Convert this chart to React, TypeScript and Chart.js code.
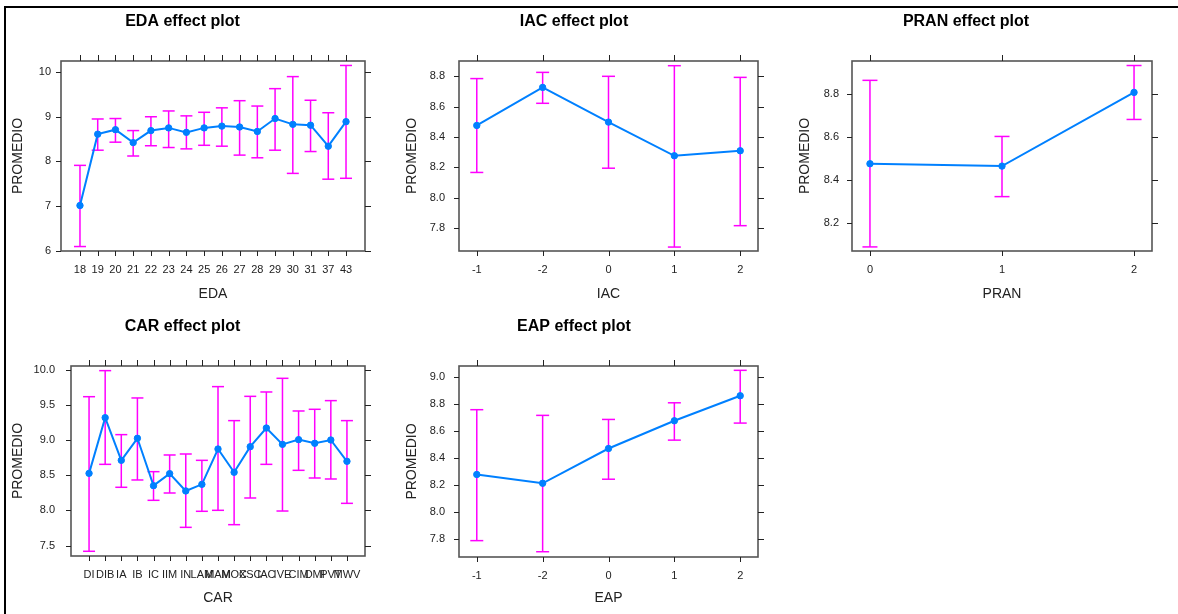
import React, { useEffect, useRef } from 'react';
import { Chart, registerables } from 'chart.js';

Chart.register(...registerables);

// ---------- data ----------
const edaLabels = ['18', '19', '20', '21', '22', '23', '24', '25', '26', '27', '28', '29', '30', '31', '37', '43'];
const edaMean = [7.01, 8.61, 8.71, 8.42, 8.69, 8.75, 8.65, 8.75, 8.79, 8.77, 8.67, 8.96, 8.83, 8.81, 8.34, 8.89];
const edaUpper = [7.91, 8.95, 8.96, 8.69, 9.0, 9.13, 9.02, 9.1, 9.2, 9.36, 9.24, 9.63, 9.9, 9.37, 9.09, 10.15];
const edaLower = [6.09, 8.25, 8.43, 8.12, 8.35, 8.31, 8.28, 8.36, 8.34, 8.14, 8.08, 8.25, 7.73, 8.22, 7.6, 7.62];
const edaYTicks = [6, 7, 8, 9, 10];

const iacLabels = ['-1', '-2', '0', '1', '2'];
const iacMean = [8.476, 8.727, 8.498, 8.276, 8.309];
const iacUpper = [8.785, 8.826, 8.8, 8.87, 8.793];
const iacLower = [8.166, 8.622, 8.194, 7.674, 7.815];
const iacYTicks = [7.8, 8.0, 8.2, 8.4, 8.6, 8.8];

const pranLabels = ['0', '1', '2'];
const pranMean = [8.474, 8.463, 8.806];
const pranUpper = [8.862, 8.601, 8.931];
const pranLower = [8.087, 8.321, 8.68];
const pranYTicks = [8.2, 8.4, 8.6, 8.8];

const carLabels = ['DI', 'DIB', 'IA', 'IB', 'IC', 'IIM', 'IN', 'LAM', 'MAM', 'MOC', 'XSC', 'IAC', 'IVE', 'CIM', 'DMI', 'PVT', 'MWV'];
const carMean = [8.527, 9.318, 8.712, 9.025, 8.352, 8.523, 8.277, 8.371, 8.873, 8.542, 8.906, 9.171, 8.939, 9.006, 8.954, 9.001, 8.698];
const carUpper = [9.616, 9.986, 9.077, 9.598, 8.551, 8.788, 8.802, 8.712, 9.759, 9.276, 9.621, 9.683, 9.877, 9.413, 9.437, 9.56, 9.276];
const carLower = [7.42, 8.655, 8.329, 8.433, 8.144, 8.248, 7.76, 7.988, 8.002, 7.798, 8.177, 8.655, 7.992, 8.57, 8.461, 8.447, 8.101];
const carYTicks = [7.5, 8.0, 8.5, 9.0, 9.5, 10.0];

const eapLabels = ['-1', '-2', '0', '1', '2'];
const eapMean = [8.277, 8.212, 8.469, 8.674, 8.859];
const eapUpper = [8.756, 8.714, 8.684, 8.807, 9.047];
const eapLower = [7.788, 7.706, 8.242, 8.531, 8.657];
const eapYTicks = [7.8, 8.0, 8.2, 8.4, 8.6, 8.8, 9.0];

// ---------- layout / style ----------
const FONT = "'Liberation Sans', Arial, Helvetica, sans-serif";
const LINE_COLOR = '#0080ff';
const BAR_COLOR = '#ff00ff';
const TEXT_COLOR = '#222';
const TICK_LEN = 5;

type PanelCfg = {
  name: string;
  labels: string[];
  mean: number[];
  upper: number[];
  lower: number[];
  yTicks: number[];
  dec: number;
  yMin: number;
  yMax: number;
  xPad: number;
  left: number;
  top: number;
  w: number;
  h: number;
  yW: number;
  rightPad: number;
  xH: number;
  yTitlePad: number;
  xTitlePad: number;
  yTickPad: number;
  capR: number;
};

const panels: PanelCfg[] = [
  { name: 'EDA', labels: edaLabels, mean: edaMean, upper: edaUpper, lower: edaLower, yTicks: edaYTicks, dec: 0,
    yMin: 5.99, yMax: 10.25, xPad: 1.07, left: 0, top: 0, w: 404, h: 305, yW: 61, rightPad: 39, xH: 54,
    yTitlePad: 9.6, xTitlePad: 2.6, yTickPad: 5, capR: 6 },
  { name: 'IAC', labels: iacLabels, mean: iacMean, upper: iacUpper, lower: iacLower, yTicks: iacYTicks, dec: 1,
    yMin: 7.648, yMax: 8.901, xPad: 0.27, left: 390, top: 0, w: 410, h: 305, yW: 69, rightPad: 42, xH: 54,
    yTitlePad: 13.6, xTitlePad: 2.6, yTickPad: 9, capR: 6.5 },
  { name: 'PRAN', labels: pranLabels, mean: pranMean, upper: pranUpper, lower: pranLower, yTicks: pranYTicks, dec: 1,
    yMin: 8.068, yMax: 8.952, xPad: 0.136, left: 780, top: 0, w: 416, h: 305, yW: 72, rightPad: 44, xH: 54,
    yTitlePad: 16.6, xTitlePad: 2.6, yTickPad: 8, capR: 7.5 },
  { name: 'CAR', labels: carLabels, mean: carMean, upper: carUpper, lower: carLower, yTicks: carYTicks, dec: 1,
    yMin: 7.353, yMax: 10.052, xPad: 1.12, left: 0, top: 305, w: 404, h: 309, yW: 71, rightPad: 39, xH: 58,
    yTitlePad: 9.6, xTitlePad: 7.9, yTickPad: 11, capR: 6 },
  { name: 'EAP', labels: eapLabels, mean: eapMean, upper: eapUpper, lower: eapLower, yTicks: eapYTicks, dec: 1,
    yMin: 7.667, yMax: 9.079, xPad: 0.27, left: 390, top: 305, w: 410, h: 309, yW: 69, rightPad: 42, xH: 57,
    yTitlePad: 13.6, xTitlePad: 7.6, yTickPad: 9, capR: 6.5 },
];

// draws the lattice-style box and tick marks on all four sides, using the chart's own scales
const framePlugin = {
  id: 'latticeFrame',
  afterDraw(chart: any) {
    const { ctx, chartArea: a, scales } = chart;
    ctx.save();
    ctx.strokeStyle = '#555';
    ctx.lineWidth = 1.6;
    ctx.strokeRect(a.left, a.top, a.right - a.left, a.bottom - a.top);
    ctx.strokeStyle = '#222';
    ctx.lineWidth = 1;
    ctx.beginPath();
    scales.x.ticks.forEach((t: any) => {
      const px = Math.round(scales.x.getPixelForValue(t.value)) + 0.5;
      ctx.moveTo(px, a.top);
      ctx.lineTo(px, a.top - TICK_LEN - 1);
      ctx.moveTo(px, a.bottom);
      ctx.lineTo(px, a.bottom + TICK_LEN);
    });
    scales.y.ticks.forEach((t: any) => {
      const py = Math.round(scales.y.getPixelForValue(t.value)) + 0.5;
      ctx.moveTo(a.right, py);
      ctx.lineTo(a.right + TICK_LEN + 1, py);
      ctx.moveTo(a.left, py);
      ctx.lineTo(a.left - TICK_LEN, py);
    });
    ctx.stroke();
    ctx.restore();
  },
};

function Panel({ cfg }: { cfg: PanelCfg }) {
  const ref = useRef<HTMLCanvasElement>(null);
  useEffect(() => {
    if (!ref.current) return;
    const n = cfg.labels.length;
    const lineData = cfg.mean.map((v, i) => ({ x: i, y: v }));
    const barData: any[] = [];
    cfg.labels.forEach((_, i) => {
      barData.push({ x: i, y: cfg.lower[i] });
      barData.push({ x: i, y: cfg.upper[i] });
      barData.push({ x: i, y: null });
    });
    const chart = new Chart(ref.current, {
      type: 'line',
      data: {
        datasets: [
          {
            data: lineData,
            borderColor: LINE_COLOR,
            backgroundColor: LINE_COLOR,
            borderWidth: 2,
            pointRadius: 3.2,
            pointBackgroundColor: LINE_COLOR,
            pointBorderColor: LINE_COLOR,
            pointBorderWidth: 1,
            tension: 0,
          },
          {
            data: barData,
            borderColor: BAR_COLOR,
            backgroundColor: BAR_COLOR,
            borderWidth: 1.5,
            pointStyle: 'line',
            pointRadius: cfg.capR,
            pointBorderColor: BAR_COLOR,
            pointBorderWidth: 1.5,
            spanGaps: false,
            tension: 0,
          },
        ],
      } as any,
      options: {
        responsive: false,
        animation: false,
        events: [],
        layout: { padding: { left: 0, right: cfg.rightPad, top: 0, bottom: 0 } },
        plugins: {
          legend: { display: false },
          tooltip: { enabled: false },
          title: {
            display: true,
            text: `${cfg.name} effect plot`,
            color: '#000',
            font: { family: FONT, size: 16, weight: 'bold', lineHeight: 1.2 },
            padding: { top: 12.4, bottom: 29.4 },
          },
        },
        scales: {
          x: {
            type: 'linear',
            position: 'bottom',
            min: -cfg.xPad,
            max: n - 1 + cfg.xPad,
            afterBuildTicks: (s: any) => {
              s.ticks = cfg.labels.map((_, i) => ({ value: i }));
            },
            afterFit: (s: any) => {
              s.height = cfg.xH;
            },
            ticks: {
              autoSkip: false,
              maxRotation: 0,
              minRotation: 0,
              padding: 7,
              color: TEXT_COLOR,
              font: { family: FONT, size: 11 },
              callback: (v: any) => cfg.labels[v] ?? '',
            },
            grid: { display: false, drawOnChartArea: false, drawTicks: true, tickLength: TICK_LEN },
            border: { display: false },
            title: {
              display: true,
              text: cfg.name,
              color: TEXT_COLOR,
              font: { family: FONT, size: 14, lineHeight: 1.2 },
              padding: { top: 0, bottom: cfg.xTitlePad },
            },
          },
          y: {
            type: 'linear',
            position: 'left',
            min: cfg.yMin,
            max: cfg.yMax,
            afterBuildTicks: (s: any) => {
              s.ticks = cfg.yTicks.map((v) => ({ value: v }));
            },
            afterFit: (s: any) => {
              s.width = cfg.yW;
            },
            ticks: {
              padding: cfg.yTickPad,
              color: TEXT_COLOR,
              font: { family: FONT, size: 11 },
              callback: (v: any) => Number(v).toFixed(cfg.dec),
            },
            grid: { display: false, drawOnChartArea: false, drawTicks: true, tickLength: TICK_LEN },
            border: { display: false },
            title: {
              display: true,
              text: 'PROMEDIO',
              color: TEXT_COLOR,
              font: { family: FONT, size: 14, lineHeight: 1.2 },
              padding: { top: cfg.yTitlePad, bottom: 0 },
            },
          },
        },
      } as any,
      plugins: [framePlugin],
    });
    return () => chart.destroy();
  }, [cfg]);
  return (
    <canvas
      ref={ref}
      width={cfg.w}
      height={cfg.h}
      style={{ position: 'absolute', left: cfg.left, top: cfg.top, width: cfg.w, height: cfg.h }}
    />
  );
}

export default function App() {
  return (
    <div style={{ position: 'absolute', left: 0, top: 0, width: 1178, height: 614, overflow: 'hidden', background: '#fff' }}>
      <div
        style={{
          position: 'absolute',
          left: 4,
          top: 6,
          width: 1174,
          height: 608,
          boxSizing: 'border-box',
          borderTop: '2px solid #000',
          borderLeft: '2px solid #000',
        }}
      />
      {panels.map((p) => (
        <Panel key={p.name} cfg={p} />
      ))}
    </div>
  );
}
